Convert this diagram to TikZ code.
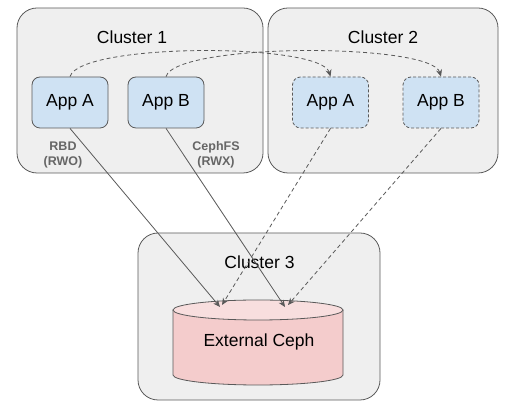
\documentclass[tikz,border=0pt]{standalone}
\usepackage{fontspec}
\setmainfont{Liberation Sans}
\usetikzlibrary{arrows.meta}
\definecolor{edge}{HTML}{595959}
\definecolor{clusterbg}{HTML}{EFEFEF}
\definecolor{appbg}{HTML}{CFE2F3}
\definecolor{cephbody}{HTML}{F4CCCC}
\definecolor{cephtop}{HTML}{F8DEDE}
\definecolor{labelgray}{HTML}{666666}
\begin{document}
\begin{tikzpicture}[x=1pt, y=1pt,
    cluster/.style={draw=edge, fill=clusterbg, rounded corners=20pt, line width=0.8pt},
    app/.style={draw=edge, fill=appbg, rounded corners=8pt, line width=0.8pt, minimum width=76pt, minimum height=51pt, font=\fontsize{17.5}{21}\selectfont},
    replica/.style={app, dash pattern=on 3pt off 2pt},
    title/.style={font=\fontsize{17.5}{21}\selectfont},
    access/.style={text=labelgray, font=\fontsize{12.5}{15}\selectfont\bfseries, align=center},
    link/.style={draw=edge, line width=0.8pt, -{Stealth[length=7pt, width=6pt]}},
    mirror/.style={link, dash pattern=on 4pt off 3pt}]
    \useasboundingbox (0,0) rectangle (516,414);

    % clusters
    \node[cluster, minimum width=246pt, minimum height=165pt] (cluster1) at (140,323.5) {};
    \node[cluster, minimum width=230pt, minimum height=165pt] (cluster2) at (383,323.5) {};
    \node[cluster, minimum width=242pt, minimum height=167pt] (cluster3) at (259,97.5) {};
    \node[title] (title1) at (132,377) {Cluster 1};
    \node[title] (title2) at (383,377) {Cluster 2};
    \node[title] (title3) at (259.5,152) {Cluster 3};

    % apps
    \node[app] (appA1) at (70,311.5) {App A};
    \node[app] (appB1) at (166,311.5) {App B};
    \node[replica] (appA2) at (330.5,311.5) {App A};
    \node[replica] (appB2) at (441,311.5) {App B};
    \node[access] (rbd) at (63,259) {RBD\\(RWO)};
    \node[access] (cephfs) at (216,259) {CephFS\\(RWX)};

    % storage
    \draw[edge, line width=0.8pt, fill=cephbody] (173,104) -- (173,39) arc[start angle=180, end angle=360, x radius=85, y radius=10] -- (343,104);
    \draw[edge, line width=0.8pt, fill=cephtop] (258,104) ellipse[x radius=85, y radius=10];
    \node[title] (ceph) at (259,72) {External Ceph};
    \coordinate (endA) at (220,107);
    \coordinate (endB) at (285,107);
    \coordinate (endA2) at (222,109);
    \coordinate (endB2) at (288,109);

    % connections
    \draw[link] (appA1.south) -- (endA);
    \draw[link] (appB1.south) -- (endB);
    \draw[mirror] (appA2.south) -- (endA2);
    \draw[mirror] (appB2.south) -- (endB2);
    \draw[mirror] (appA1.north) .. controls +(10,34) and +(-10,34) .. (appA2.north);
    \draw[mirror] (appB1.north) .. controls +(10,34) and +(-10,34) .. (appB2.north);
\end{tikzpicture}
\end{document}
